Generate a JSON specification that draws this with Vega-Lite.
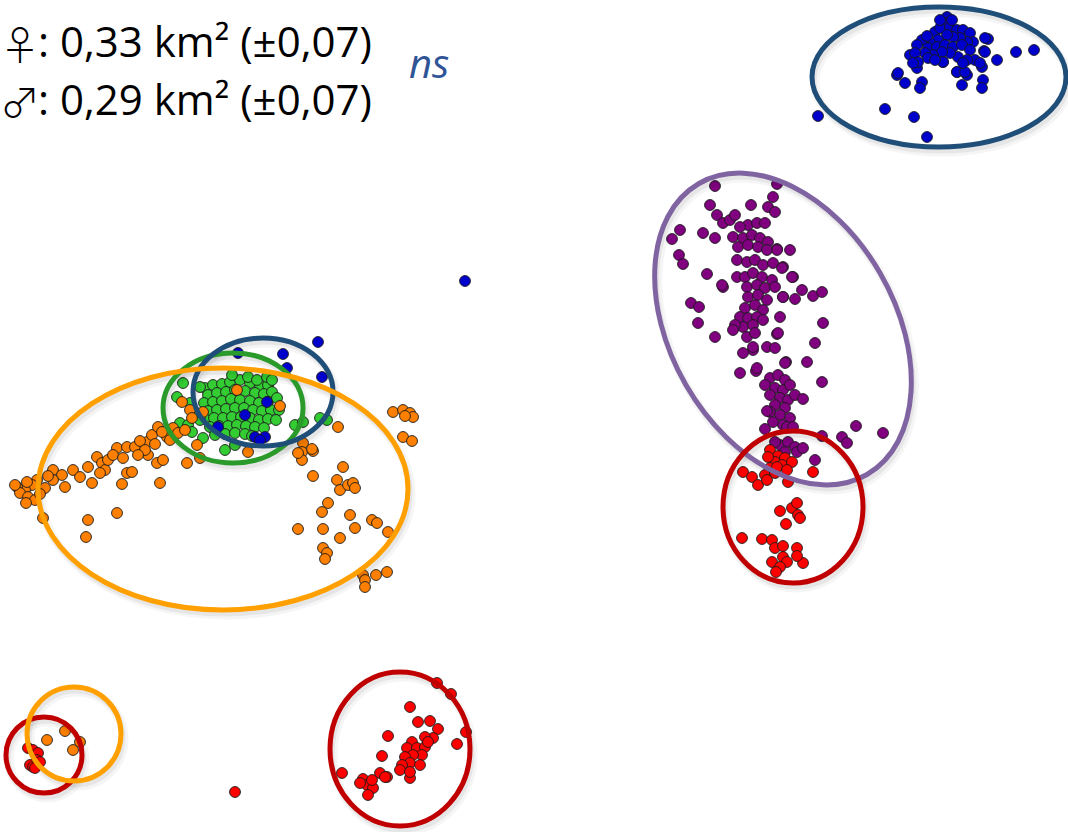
{
  "$schema": "https://vega.github.io/schema/vega-lite/v6.json",
  "autosize": {"type": "none"},
  "width": 1068,
  "height": 832,
  "padding": 0,
  "background": "white",
  "view": {"stroke": null},
  "datasets": {
    "fixes": [
      {"g":"bleu","x":947,"y":17},{"g":"bleu","x":988,"y":39},{"g":"bleu","x":984,"y":51},{"g":"bleu","x":997,"y":60},{"g":"bleu","x":1016,"y":52},{"g":"bleu","x":1034,"y":50},{"g":"bleu","x":897,"y":75},{"g":"bleu","x":905,"y":83},{"g":"bleu","x":922,"y":82},{"g":"bleu","x":920,"y":88},{"g":"bleu","x":957,"y":72},{"g":"bleu","x":967,"y":75},{"g":"bleu","x":962,"y":85},{"g":"bleu","x":982,"y":67},{"g":"bleu","x":983,"y":80},{"g":"bleu","x":982,"y":88},{"g":"bleu","x":885,"y":109},{"g":"bleu","x":914,"y":117},{"g":"bleu","x":818,"y":116},{"g":"bleu","x":927,"y":137},{"g":"bleu","x":917,"y":68},{"g":"bleu","x":943,"y":62},{"g":"bleu","x":910,"y":55},
      {"g":"bleu","x":945,"y":23},{"g":"bleu","x":935,"y":32},{"g":"bleu","x":940,"y":28},{"g":"bleu","x":950,"y":27},{"g":"bleu","x":957,"y":30},{"g":"bleu","x":963,"y":30},{"g":"bleu","x":970,"y":33},{"g":"bleu","x":973,"y":42},{"g":"bleu","x":967,"y":42},{"g":"bleu","x":960,"y":38},{"g":"bleu","x":953,"y":37},{"g":"bleu","x":947,"y":35},{"g":"bleu","x":938,"y":40},{"g":"bleu","x":930,"y":43},{"g":"bleu","x":922,"y":40},{"g":"bleu","x":917,"y":45},{"g":"bleu","x":928,"y":48},{"g":"bleu","x":937,"y":47},{"g":"bleu","x":945,"y":45},{"g":"bleu","x":953,"y":47},{"g":"bleu","x":962,"y":45},{"g":"bleu","x":970,"y":50},{"g":"bleu","x":975,"y":60},{"g":"bleu","x":967,"y":60},{"g":"bleu","x":958,"y":57},{"g":"bleu","x":950,"y":53},{"g":"bleu","x":942,"y":52},{"g":"bleu","x":933,"y":55},{"g":"bleu","x":925,"y":53},{"g":"bleu","x":915,"y":53},{"g":"bleu","x":918,"y":62},{"g":"bleu","x":928,"y":58},{"g":"bleu","x":943,"y":62},{"g":"bleu","x":957,"y":72},{"g":"bleu","x":965,"y":72},{"g":"bleu","x":980,"y":63},{"g":"bleu","x":985,"y":38},{"g":"bleu","x":985,"y":52},{"g":"bleu","x":898,"y":73},{"g":"bleu","x":913,"y":63},{"g":"bleu","x":935,"y":60},{"g":"bleu","x":963,"y":63},{"g":"bleu","x":927,"y":36},{"g":"bleu","x":952,"y":20},{"g":"bleu","x":940,"y":20},
      {"g":"bleu","x":318,"y":342},{"g":"bleu","x":283,"y":354},{"g":"bleu","x":287,"y":368},{"g":"bleu","x":322,"y":377},{"g":"bleu","x":238,"y":353},{"g":"bleu","x":465,"y":281},

      {"g":"violet","x":715,"y":186},{"g":"violet","x":777,"y":184},{"g":"violet","x":773,"y":197},{"g":"violet","x":768,"y":207},{"g":"violet","x":775,"y":212},{"g":"violet","x":751,"y":205},{"g":"violet","x":710,"y":205},{"g":"violet","x":717,"y":215},{"g":"violet","x":680,"y":230},{"g":"violet","x":672,"y":239},{"g":"violet","x":703,"y":233},{"g":"violet","x":715,"y":238},{"g":"violet","x":723,"y":223},{"g":"violet","x":730,"y":220},{"g":"violet","x":679,"y":255},{"g":"violet","x":683,"y":264},{"g":"violet","x":707,"y":274},{"g":"violet","x":723,"y":287},{"g":"violet","x":691,"y":303},{"g":"violet","x":699,"y":307},{"g":"violet","x":698,"y":323},{"g":"violet","x":715,"y":337},
      {"g":"violet","x":790,"y":250},{"g":"violet","x":777,"y":249},{"g":"violet","x":783,"y":267},{"g":"violet","x":793,"y":277},{"g":"violet","x":802,"y":290},{"g":"violet","x":795,"y":299},{"g":"violet","x":813,"y":296},{"g":"violet","x":822,"y":292},{"g":"violet","x":783,"y":297},{"g":"violet","x":780,"y":317},{"g":"violet","x":823,"y":323},{"g":"violet","x":815,"y":343},{"g":"violet","x":777,"y":334},{"g":"violet","x":767,"y":347},{"g":"violet","x":775,"y":348},{"g":"violet","x":753,"y":350},{"g":"violet","x":740,"y":373},{"g":"violet","x":756,"y":371},{"g":"violet","x":786,"y":362},{"g":"violet","x":807,"y":362},{"g":"violet","x":822,"y":382},
      {"g":"violet","x":735,"y":215},{"g":"violet","x":748,"y":225},{"g":"violet","x":757,"y":223},{"g":"violet","x":765,"y":223},{"g":"violet","x":740,"y":227},{"g":"violet","x":733,"y":237},{"g":"violet","x":743,"y":238},{"g":"violet","x":752,"y":235},{"g":"violet","x":760,"y":238},{"g":"violet","x":768,"y":242},{"g":"violet","x":738,"y":247},{"g":"violet","x":748,"y":245},{"g":"violet","x":758,"y":247},{"g":"violet","x":767,"y":250},{"g":"violet","x":777,"y":250},{"g":"violet","x":737,"y":260},{"g":"violet","x":747,"y":262},{"g":"violet","x":755,"y":260},{"g":"violet","x":763,"y":265},{"g":"violet","x":773,"y":263},{"g":"violet","x":782,"y":268},{"g":"violet","x":792,"y":277},{"g":"violet","x":737,"y":277},{"g":"violet","x":745,"y":277},{"g":"violet","x":753,"y":273},{"g":"violet","x":762,"y":277},{"g":"violet","x":772,"y":280},{"g":"violet","x":747,"y":287},{"g":"violet","x":757,"y":285},{"g":"violet","x":765,"y":288},{"g":"violet","x":775,"y":287},{"g":"violet","x":783,"y":297},{"g":"violet","x":748,"y":297},{"g":"violet","x":758,"y":295},{"g":"violet","x":767,"y":300},{"g":"violet","x":745,"y":308},{"g":"violet","x":755,"y":305},{"g":"violet","x":763,"y":310},{"g":"violet","x":740,"y":317},{"g":"violet","x":748,"y":318},{"g":"violet","x":757,"y":317},{"g":"violet","x":743,"y":327},{"g":"violet","x":735,"y":325},{"g":"violet","x":753,"y":325},{"g":"violet","x":763,"y":320},{"g":"violet","x":733,"y":330},{"g":"violet","x":747,"y":337},{"g":"violet","x":755,"y":333},{"g":"violet","x":778,"y":333},{"g":"violet","x":753,"y":347},{"g":"violet","x":743,"y":353},{"g":"violet","x":785,"y":363},{"g":"violet","x":757,"y":368},{"g":"violet","x":722,"y":285},
      {"g":"violet","x":770,"y":378},{"g":"violet","x":778,"y":375},{"g":"violet","x":785,"y":380},{"g":"violet","x":765,"y":385},{"g":"violet","x":775,"y":388},{"g":"violet","x":783,"y":390},{"g":"violet","x":790,"y":385},{"g":"violet","x":770,"y":395},{"g":"violet","x":780,"y":398},{"g":"violet","x":788,"y":400},{"g":"violet","x":795,"y":395},{"g":"violet","x":775,"y":405},{"g":"violet","x":785,"y":408},{"g":"violet","x":770,"y":412},{"g":"violet","x":780,"y":415},{"g":"violet","x":790,"y":418},{"g":"violet","x":783,"y":425},{"g":"violet","x":773,"y":422},{"g":"violet","x":803,"y":399},{"g":"violet","x":767,"y":411},{"g":"violet","x":787,"y":427},{"g":"violet","x":793,"y":427},{"g":"violet","x":765,"y":429},{"g":"violet","x":822,"y":436},{"g":"violet","x":842,"y":437},{"g":"violet","x":856,"y":426},{"g":"violet","x":847,"y":443},{"g":"violet","x":883,"y":433},
      {"g":"violet","x":780,"y":445},{"g":"violet","x":788,"y":442},{"g":"violet","x":795,"y":447},{"g":"violet","x":785,"y":452},{"g":"violet","x":797,"y":452},{"g":"violet","x":803,"y":448},{"g":"violet","x":775,"y":442},{"g":"violet","x":815,"y":460},

      {"g":"rouge","x":770,"y":450},{"g":"rouge","x":778,"y":456},{"g":"rouge","x":785,"y":458},{"g":"rouge","x":775,"y":462},{"g":"rouge","x":782,"y":465},{"g":"rouge","x":792,"y":462},{"g":"rouge","x":770,"y":468},{"g":"rouge","x":765,"y":475},{"g":"rouge","x":775,"y":473},{"g":"rouge","x":768,"y":457},{"g":"rouge","x":743,"y":472},{"g":"rouge","x":752,"y":477},{"g":"rouge","x":758,"y":485},{"g":"rouge","x":767,"y":480},{"g":"rouge","x":777,"y":467},{"g":"rouge","x":787,"y":470},{"g":"rouge","x":788,"y":482},{"g":"rouge","x":813,"y":472},
      {"g":"rouge","x":780,"y":511},{"g":"rouge","x":792,"y":508},{"g":"rouge","x":797,"y":503},{"g":"rouge","x":798,"y":515},{"g":"rouge","x":800,"y":518},{"g":"rouge","x":786,"y":524},{"g":"rouge","x":742,"y":538},{"g":"rouge","x":762,"y":539},{"g":"rouge","x":772,"y":540},{"g":"rouge","x":775,"y":548},{"g":"rouge","x":783,"y":546},{"g":"rouge","x":797,"y":548},{"g":"rouge","x":783,"y":557},{"g":"rouge","x":787,"y":562},{"g":"rouge","x":772,"y":562},{"g":"rouge","x":780,"y":567},{"g":"rouge","x":776,"y":572},{"g":"rouge","x":803,"y":563},{"g":"rouge","x":797,"y":556},

      {"g":"vert","x":205,"y":388},{"g":"vert","x":213,"y":385},{"g":"vert","x":222,"y":384},{"g":"vert","x":230,"y":382},{"g":"vert","x":240,"y":380},{"g":"vert","x":250,"y":383},{"g":"vert","x":260,"y":386},{"g":"vert","x":268,"y":385},{"g":"vert","x":208,"y":395},{"g":"vert","x":217,"y":393},{"g":"vert","x":226,"y":392},{"g":"vert","x":235,"y":390},{"g":"vert","x":245,"y":391},{"g":"vert","x":255,"y":393},{"g":"vert","x":264,"y":394},{"g":"vert","x":272,"y":392},{"g":"vert","x":204,"y":403},{"g":"vert","x":213,"y":402},{"g":"vert","x":222,"y":401},{"g":"vert","x":231,"y":399},{"g":"vert","x":240,"y":400},{"g":"vert","x":250,"y":401},{"g":"vert","x":259,"y":403},{"g":"vert","x":268,"y":402},{"g":"vert","x":277,"y":398},{"g":"vert","x":208,"y":411},{"g":"vert","x":217,"y":410},{"g":"vert","x":226,"y":409},{"g":"vert","x":235,"y":408},{"g":"vert","x":244,"y":408},{"g":"vert","x":253,"y":410},{"g":"vert","x":262,"y":411},{"g":"vert","x":271,"y":410},{"g":"vert","x":205,"y":419},{"g":"vert","x":214,"y":418},{"g":"vert","x":223,"y":418},{"g":"vert","x":232,"y":417},{"g":"vert","x":241,"y":417},{"g":"vert","x":250,"y":418},{"g":"vert","x":259,"y":420},{"g":"vert","x":268,"y":419},{"g":"vert","x":210,"y":427},{"g":"vert","x":219,"y":426},{"g":"vert","x":228,"y":426},{"g":"vert","x":237,"y":425},{"g":"vert","x":246,"y":426},{"g":"vert","x":255,"y":427},{"g":"vert","x":264,"y":428},{"g":"vert","x":215,"y":435},{"g":"vert","x":225,"y":434},{"g":"vert","x":235,"y":433},{"g":"vert","x":245,"y":434},{"g":"vert","x":252,"y":436},{"g":"vert","x":200,"y":420},{"g":"vert","x":195,"y":412},
      {"g":"vert","x":232,"y":375},{"g":"vert","x":248,"y":377},{"g":"vert","x":257,"y":380},{"g":"vert","x":267,"y":377},{"g":"vert","x":272,"y":380},{"g":"vert","x":183,"y":383},{"g":"vert","x":177,"y":397},{"g":"vert","x":200,"y":387},{"g":"vert","x":180,"y":423},{"g":"vert","x":188,"y":425},{"g":"vert","x":192,"y":432},{"g":"vert","x":203,"y":438},{"g":"vert","x":225,"y":450},{"g":"vert","x":235,"y":445},{"g":"vert","x":295,"y":425},{"g":"vert","x":303,"y":422},{"g":"vert","x":327,"y":420},{"g":"vert","x":320,"y":418},{"g":"vert","x":279,"y":410},{"g":"vert","x":276,"y":420},{"g":"vert","x":190,"y":403},

      {"g":"bleu","x":267,"y":402},{"g":"bleu","x":245,"y":415},{"g":"bleu","x":218,"y":427},{"g":"bleu","x":255,"y":437},{"g":"bleu","x":265,"y":437},{"g":"bleu","x":260,"y":440},

      {"g":"orange","x":53,"y":470},{"g":"orange","x":62,"y":475},{"g":"orange","x":73,"y":470},{"g":"orange","x":53,"y":480},{"g":"orange","x":65,"y":487},{"g":"orange","x":45,"y":488},{"g":"orange","x":37,"y":480},{"g":"orange","x":32,"y":485},{"g":"orange","x":25,"y":490},{"g":"orange","x":17,"y":487},{"g":"orange","x":20,"y":493},{"g":"orange","x":28,"y":497},{"g":"orange","x":35,"y":500},{"g":"orange","x":43,"y":518},{"g":"orange","x":15,"y":485},{"g":"orange","x":27,"y":482},{"g":"orange","x":40,"y":494},{"g":"orange","x":26,"y":503},{"g":"orange","x":48,"y":476},
      {"g":"orange","x":80,"y":477},{"g":"orange","x":92,"y":483},{"g":"orange","x":88,"y":467},{"g":"orange","x":97,"y":457},{"g":"orange","x":102,"y":463},{"g":"orange","x":105,"y":470},{"g":"orange","x":100,"y":473},{"g":"orange","x":117,"y":448},{"g":"orange","x":127,"y":447},{"g":"orange","x":122,"y":484},{"g":"orange","x":127,"y":473},{"g":"orange","x":132,"y":472},{"g":"orange","x":147,"y":442},{"g":"orange","x":148,"y":455},{"g":"orange","x":157,"y":463},{"g":"orange","x":163,"y":460},{"g":"orange","x":160,"y":483},{"g":"orange","x":152,"y":435},{"g":"orange","x":158,"y":427},{"g":"orange","x":167,"y":437},{"g":"orange","x":173,"y":428},{"g":"orange","x":88,"y":520},{"g":"orange","x":117,"y":513},{"g":"orange","x":86,"y":537},{"g":"orange","x":187,"y":463},{"g":"orange","x":200,"y":458},{"g":"orange","x":190,"y":410},{"g":"orange","x":182,"y":402},
      {"g":"orange","x":108,"y":460},{"g":"orange","x":113,"y":455},{"g":"orange","x":123,"y":458},{"g":"orange","x":135,"y":447},{"g":"orange","x":140,"y":441},{"g":"orange","x":155,"y":444},{"g":"orange","x":162,"y":432},{"g":"orange","x":170,"y":440},{"g":"orange","x":178,"y":433},{"g":"orange","x":145,"y":450},{"g":"orange","x":138,"y":455},{"g":"orange","x":192,"y":418},{"g":"orange","x":203,"y":412},{"g":"orange","x":185,"y":430},{"g":"orange","x":197,"y":445},{"g":"orange","x":237,"y":390},{"g":"orange","x":280,"y":406},{"g":"orange","x":248,"y":452},
      {"g":"orange","x":393,"y":412},{"g":"orange","x":403,"y":410},{"g":"orange","x":410,"y":413},{"g":"orange","x":413,"y":417},{"g":"orange","x":405,"y":416},{"g":"orange","x":403,"y":437},{"g":"orange","x":412,"y":441},{"g":"orange","x":338,"y":427},{"g":"orange","x":303,"y":443},{"g":"orange","x":302,"y":452},{"g":"orange","x":313,"y":451},{"g":"orange","x":302,"y":460},{"g":"orange","x":313,"y":476},{"g":"orange","x":343,"y":467},{"g":"orange","x":337,"y":480},{"g":"orange","x":340,"y":490},{"g":"orange","x":348,"y":485},{"g":"orange","x":353,"y":483},{"g":"orange","x":355,"y":488},{"g":"orange","x":328,"y":503},{"g":"orange","x":322,"y":512},{"g":"orange","x":350,"y":515},{"g":"orange","x":372,"y":520},{"g":"orange","x":377,"y":523},{"g":"orange","x":298,"y":529},{"g":"orange","x":323,"y":529},{"g":"orange","x":355,"y":528},{"g":"orange","x":340,"y":538},{"g":"orange","x":388,"y":532},{"g":"orange","x":323,"y":548},{"g":"orange","x":327,"y":553},{"g":"orange","x":325,"y":559},{"g":"orange","x":363,"y":575},{"g":"orange","x":365,"y":580},{"g":"orange","x":365,"y":587},{"g":"orange","x":376,"y":575},{"g":"orange","x":387,"y":572},{"g":"orange","x":312,"y":449},{"g":"orange","x":298,"y":453},

      {"g":"rouge","x":28,"y":748},{"g":"rouge","x":33,"y":750},{"g":"rouge","x":38,"y":753},{"g":"rouge","x":37,"y":760},{"g":"rouge","x":40,"y":762},{"g":"rouge","x":30,"y":765},{"g":"rouge","x":33,"y":767},{"g":"rouge","x":35,"y":768},
      {"g":"orange","x":47,"y":740},{"g":"orange","x":65,"y":731},{"g":"orange","x":80,"y":742},{"g":"orange","x":73,"y":750},
      {"g":"rouge","x":235,"y":792},
      {"g":"rouge","x":437,"y":683},{"g":"rouge","x":451,"y":694},{"g":"rouge","x":466,"y":732},{"g":"rouge","x":410,"y":707},{"g":"rouge","x":418,"y":722},{"g":"rouge","x":430,"y":721},{"g":"rouge","x":438,"y":729},{"g":"rouge","x":433,"y":738},{"g":"rouge","x":457,"y":744},{"g":"rouge","x":388,"y":736},{"g":"rouge","x":382,"y":756},{"g":"rouge","x":342,"y":773},{"g":"rouge","x":380,"y":773},{"g":"rouge","x":387,"y":777},{"g":"rouge","x":410,"y":778},{"g":"rouge","x":363,"y":779},{"g":"rouge","x":367,"y":785},{"g":"rouge","x":373,"y":788},{"g":"rouge","x":368,"y":795},{"g":"rouge","x":360,"y":783},{"g":"rouge","x":372,"y":780},
      {"g":"rouge","x":425,"y":737},{"g":"rouge","x":412,"y":742},{"g":"rouge","x":407,"y":748},{"g":"rouge","x":417,"y":748},{"g":"rouge","x":425,"y":747},{"g":"rouge","x":422,"y":755},{"g":"rouge","x":413,"y":755},{"g":"rouge","x":405,"y":757},{"g":"rouge","x":410,"y":763},{"g":"rouge","x":402,"y":765},{"g":"rouge","x":400,"y":770},{"g":"rouge","x":410,"y":772},{"g":"rouge","x":420,"y":765},{"g":"rouge","x":385,"y":777},{"g":"rouge","x":428,"y":742}
    ],
    "ranges": [
      {"g":"bleu","id":"A","cx":939,"cy":77,"major":254,"tilt":0},
      {"g":"violet","id":"B","cx":783,"cy":329,"major":336,"tilt":-30},
      {"g":"rouge","id":"C","cx":793,"cy":507,"major":152,"tilt":0},
      {"g":"rouge","id":"G","cx":400,"cy":749,"major":154,"tilt":0},
      {"g":"rouge","id":"I","cx":44,"cy":755,"major":76,"tilt":0},
      {"g":"orange","id":"H","cx":74,"cy":734,"major":94,"tilt":0},
      {"g":"vert","id":"E","cx":233,"cy":408,"major":140,"tilt":0},
      {"g":"bleu","id":"F","cx":263,"cy":392,"major":140,"tilt":0},
      {"g":"orange","id":"D","cx":223,"cy":489,"major":370,"tilt":0}
    ],
    "note": [{"t": 0}]
  },
  "layer": [
    {
      "data": {"name": "fixes"},
      "mark": {"type": "point", "filled": true, "shape": "circle", "size": 118, "stroke": "#1a1a1a", "strokeWidth": 0.9, "opacity": 1},
      "encoding": {
        "x": {"field": "x", "type": "quantitative", "scale": {"domain": [0, 1068], "nice": false, "zero": false}, "axis": null},
        "y": {"field": "y", "type": "quantitative", "scale": {"domain": [0, 832], "nice": false, "zero": false, "reverse": true}, "axis": null},
        "fill": {"field": "g", "type": "nominal", "legend": null,
          "scale": {"domain": ["bleu", "violet", "rouge", "vert", "orange"], "range": ["#0000CC", "#800080", "#FF0000", "#33CC33", "#FF8000"]}}
      }
    },
    {
      "data": {"name": "ranges"},
      "mark": {"type": "point", "filled": false, "stroke": "#000000", "strokeWidth": 9, "strokeOpacity": 0.05, "xOffset": 3, "yOffset": 5},
      "encoding": {
        "x": {"field": "cx", "type": "quantitative"},
        "y": {"field": "cy", "type": "quantitative"},
        "size": {"field": "major", "type": "quantitative", "legend": null, "scale": {"type": "pow", "exponent": 2, "domain": [0, 1000], "range": [0, 1000000], "nice": false}},
        "angle": {"field": "tilt", "type": "quantitative", "scale": null},
        "shape": {"field": "id", "type": "nominal", "legend": null,
          "scale": {"domain": ["A", "B", "C", "D", "E", "F", "G", "H", "I"],
            "range": [
              "M -1 0 C -1 -0.304 -0.552 -0.551 0 -0.551 C 0.552 -0.551 1 -0.304 1 0 C 1 0.304 0.552 0.551 0 0.551 C -0.552 0.551 -1 0.304 -1 0 Z",
              "M -0.667 0 C -0.667 -0.552 -0.368 -1 0 -1 C 0.368 -1 0.667 -0.552 0.667 0 C 0.667 0.552 0.368 1 0 1 C -0.368 1 -0.667 0.552 -0.667 0 Z",
              "M -0.921 0 C -0.921 -0.552 -0.509 -1 0 -1 C 0.509 -1 0.921 -0.552 0.921 0 C 0.921 0.552 0.509 1 0 1 C -0.509 1 -0.921 0.552 -0.921 0 Z",
              "M -1 0 C -1 -0.361 -0.552 -0.654 0 -0.654 C 0.552 -0.654 1 -0.361 1 0 C 1 0.361 0.552 0.654 0 0.654 C -0.552 0.654 -1 0.361 -1 0 Z",
              "M -1 0 C -1 -0.434 -0.552 -0.786 0 -0.786 C 0.552 -0.786 1 -0.434 1 0 C 1 0.434 0.552 0.786 0 0.786 C -0.552 0.786 -1 0.434 -1 0 Z",
              "M -1 0 C -1 -0.426 -0.552 -0.771 0 -0.771 C 0.552 -0.771 1 -0.426 1 0 C 1 0.426 0.552 0.771 0 0.771 C -0.552 0.771 -1 0.426 -1 0 Z",
              "M -0.909 0 C -0.909 -0.552 -0.502 -1 0 -1 C 0.502 -1 0.909 -0.552 0.909 0 C 0.909 0.552 0.502 1 0 1 C -0.502 1 -0.909 0.552 -0.909 0 Z",
              "circle",
              "circle"
            ]}}
      }
    },
    {
      "data": {"name": "ranges"},
      "mark": {"type": "point", "filled": false, "stroke": "#000000", "strokeWidth": 5, "strokeOpacity": 0.08, "xOffset": 2, "yOffset": 4},
      "encoding": {
        "x": {"field": "cx", "type": "quantitative"},
        "y": {"field": "cy", "type": "quantitative"},
        "size": {"field": "major", "type": "quantitative", "legend": null},
        "angle": {"field": "tilt", "type": "quantitative", "scale": null},
        "shape": {"field": "id", "type": "nominal", "legend": null}
      }
    },
    {
      "data": {"name": "ranges"},
      "mark": {"type": "point", "filled": false, "strokeWidth": 5, "opacity": 1},
      "encoding": {
        "x": {"field": "cx", "type": "quantitative"},
        "y": {"field": "cy", "type": "quantitative"},
        "size": {"field": "major", "type": "quantitative", "legend": null},
        "angle": {"field": "tilt", "type": "quantitative", "scale": null},
        "shape": {"field": "id", "type": "nominal", "legend": null},
        "stroke": {"field": "g", "type": "nominal", "legend": null,
          "scale": {"domain": ["bleu", "violet", "rouge", "vert", "orange"], "range": ["#1F4E79", "#8064A2", "#C00000", "#2A9A2A", "#FFA000"]}}
      }
    },
    {
      "data": {"name": "note"},
      "mark": {"type": "text", "align": "left", "baseline": "alphabetic", "font": "Noto Sans CJK JP", "fontWeight": 300, "fontSize": 40, "color": "#000000"},
      "encoding": {"x": {"datum": 0}, "y": {"datum": 60}, "text": {"value": "♀"}}
    },
    {
      "data": {"name": "note"},
      "mark": {"type": "text", "align": "left", "baseline": "alphabetic", "font": "Noto Sans CJK JP", "fontWeight": 300, "fontSize": 40, "color": "#000000"},
      "encoding": {"x": {"datum": 0}, "y": {"datum": 117}, "text": {"value": "♂"}}
    },
    {
      "data": {"name": "note"},
      "mark": {"type": "text", "align": "left", "baseline": "alphabetic", "font": "Open Sans", "fontSize": 42, "color": "#000000"},
      "encoding": {"x": {"datum": 38}, "y": {"datum": 57}, "text": {"value": ": 0,33 km² (±0,07)"}}
    },
    {
      "data": {"name": "note"},
      "mark": {"type": "text", "align": "left", "baseline": "alphabetic", "font": "Open Sans", "fontSize": 42, "color": "#000000"},
      "encoding": {"x": {"datum": 38}, "y": {"datum": 115}, "text": {"value": ": 0,29 km² (±0,07)"}}
    },
    {
      "data": {"name": "note"},
      "mark": {"type": "text", "align": "left", "baseline": "alphabetic", "font": "Open Sans", "fontSize": 40, "fontStyle": "italic", "color": "#2F5597"},
      "encoding": {"x": {"datum": 409}, "y": {"datum": 78}, "text": {"value": "ns"}}
    }
  ],
  "resolve": {"scale": {"size": "shared", "shape": "shared"}}
}
